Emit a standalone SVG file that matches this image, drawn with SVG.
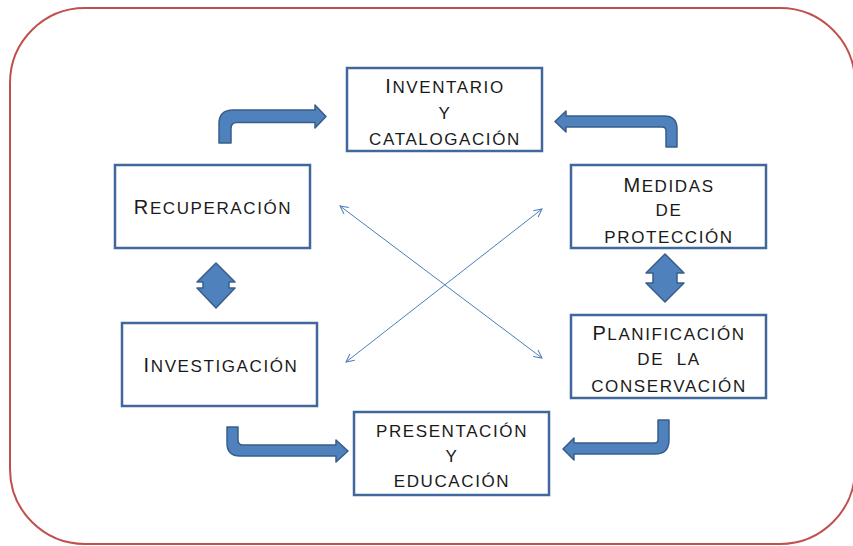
<svg xmlns="http://www.w3.org/2000/svg" width="853" height="546" viewBox="0 0 853 546">
<defs>
<style>
.frame{fill:none;stroke:#c0504d;stroke-width:2}
.box{fill:#ffffff;stroke:#41689c;stroke-width:2.5}
.t{font-family:"Liberation Sans",Arial,sans-serif;font-size:17px;letter-spacing:1.6px;fill:#1a1a1a;text-anchor:middle}
.big{font-size:20px}
.arr{fill:#4f81bd;stroke:#385d8a;stroke-width:1.5;stroke-linejoin:round}
.cross{fill:none;stroke:#4a7ebb;stroke-width:1}
</style>
<marker id="open" viewBox="0 0 10 10" refX="9" refY="5" markerWidth="10" markerHeight="10" markerUnits="userSpaceOnUse" orient="auto-start-reverse">
<path d="M1,1 L9,5 L1,9" fill="none" stroke="#4a7ebb" stroke-width="1"/>
</marker>
</defs>
<rect class="frame" x="10" y="8" width="845" height="536" rx="75" ry="75"/>

<g id="connectors">
<path class="arr" d="M219,143 L219,124 Q219,110 233,110 L315,110 L315,105 L326,116.5 L315,128 L315,122.5 L237,122.5 Q231,122.5 231,128.5 L231,143 Z"/>
<path class="arr" d="M555,121.5 L566,111 L566,116 L664,116 Q677,116 677,129 L677,147 L666,147 L666,131 Q666,127 662,127 L566,127 L566,132 Z"/>
<path class="arr" d="M227,427 L238,427 L238,440 Q238,445 243,445 L336,445 L336,440 L348,451 L336,462 L336,456 L240,456 Q227,456 227,443 Z"/>
<path class="arr" d="M563,449 L574,438 L574,443 L655,443 Q658,443 658,440 L658,420 L669,420 L669,440 Q669,454 655,454 L574,454 L574,460 Z"/>
<path class="arr" d="M216,263 L235,282 L229,282 L229,288 L235,288 L216,308 L197,288 L203,288 L203,282 L197,282 Z"/>
<path class="arr" d="M665,254 L684,273 L677,273 L677,283 L684,283 L665,302 L646,283 L653,283 L653,273 L646,273 Z"/>
<line class="cross" x1="340" y1="206" x2="542" y2="358" marker-start="url(#open)" marker-end="url(#open)"/>
<line class="cross" x1="542" y1="209" x2="346" y2="362" marker-start="url(#open)" marker-end="url(#open)"/>
</g>

<g id="inventario">
<rect class="box" x="347" y="68" width="195" height="83"/>
<text class="t" x="445" y="93"><tspan class="big">I</tspan>NVENTARIO</text>
<text class="t" x="445" y="119">Y</text>
<text class="t" x="445" y="145">CATALOGACIÓN</text>
</g>

<g id="recuperacion">
<rect class="box" x="115" y="165" width="195" height="83"/>
<text class="t" x="213" y="214"><tspan class="big">R</tspan>ECUPERACIÓN</text>
</g>

<g id="medidas">
<rect class="box" x="571" y="165" width="195" height="83"/>
<text class="t" x="669" y="192"><tspan class="big">M</tspan>EDIDAS</text>
<text class="t" x="669" y="216">DE</text>
<text class="t" x="669" y="243">PROTECCIÓN</text>
</g>

<g id="investigacion">
<rect class="box" x="122" y="323" width="195" height="83"/>
<text class="t" x="221" y="372"><tspan class="big">I</tspan>NVESTIGACIÓN</text>
</g>

<g id="planificacion">
<rect class="box" x="571" y="315" width="195" height="83"/>
<text class="t" x="669" y="340"><tspan class="big">P</tspan>LANIFICACIÓN</text>
<text class="t" x="669" y="365" xml:space="preserve">DE  LA</text>
<text class="t" x="669" y="392">CONSERVACIÓN</text>
</g>

<g id="presentacion">
<rect class="box" x="354" y="412" width="195" height="83"/>
<text class="t" x="452" y="437">PRESENTACIÓN</text>
<text class="t" x="452" y="462">Y</text>
<text class="t" x="452" y="487">EDUCACIÓN</text>
</g>
</svg>
